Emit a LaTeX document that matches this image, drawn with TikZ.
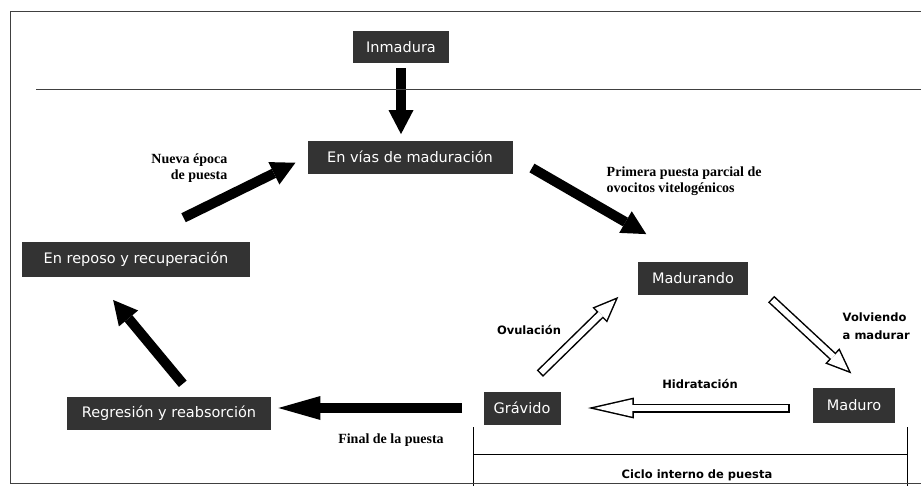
\documentclass[tikz,border=0pt]{standalone}
\usepackage{fontspec}
\setmainfont{Liberation Serif}
\newfontfamily\boxfont{DejaVu Sans}
\usetikzlibrary{arrows.meta}

\begin{document}
\begin{tikzpicture}[x=1pt, y=-1pt, line width=0.8pt,
  stage/.style={fill=black!80, text=white, font=\boxfont\fontsize{14.5}{17}\selectfont, minimum height=33pt, inner sep=0pt},
  note/.style={font=\bfseries\fontsize{14}{16}\selectfont, align=#1},
  note/.default=center,
  tag/.style={font=\boxfont\bfseries\fontsize{11.5}{18}\selectfont, align=left},
  bigarrow/.style 2 args={draw=black, line width=10pt, -{Triangle[length=24pt,width=25pt,line width=0pt]}, shorten <=#1, shorten >=#2},
  hollow/.style 2 args={draw=black, line width=9pt, -{Triangle[length=26pt,width=21pt,line width=0pt]}, shorten <=#1, shorten >=#2,
    postaction={draw=white, line width=6pt, -{Triangle[length=20.5pt,width=16.6pt,line width=0pt]}, shorten <=#1+1.5pt, shorten >=#2+4pt}}]
  \useasboundingbox (0,0) rectangle (921,485);
  \clip (0,0) rectangle (921,485);

  % stages of the ovary
  \node[stage, minimum width=96pt, minimum height=32pt] (inmad) at (401,47) {Inmadura};
  \node[stage, minimum width=205pt] (vias) at (410,157) {En vías de maduración};
  \node[stage, minimum width=228pt, minimum height=35pt] (reposo) at (136,259) {En reposo y recuperación};
  \node[stage, minimum width=204pt] (regres) at (169,413) {Regresión y reabsorción};
  \node[stage, minimum width=110pt] (madur) at (693,278) {Madurando};
  \node[stage, minimum width=77pt] (grav) at (522,408) {Grávido};
  \node[stage, minimum width=82pt, minimum height=35pt] (maduro) at (854,405) {Maduro};

  % labels on the arrows
  \node[note=right, anchor=east] (nueva) at (231,168) {Nueva época\\de puesta};
  \node[note=left, anchor=west] (primera) at (603,181) {Primera puesta parcial de\\ovocitos vitelogénicos};
  \node[note] (final) at (391,440) {Final de la puesta};
  \node[tag] (ovul) at (529,330) {Ovulación};
  \node[tag, anchor=west] (volv) at (839,326) {Volviendo\\a madurar};
  \node[tag] (hidr) at (700,384) {Hidratación};
  \node[tag, anchor=north] (ciclo) at (697,466) {Ciclo interno de puesta};

  % main cycle
  \draw[bigarrow={5pt}{6pt}] (inmad.south) -- (inmad.south |- vias.north);
  \draw[bigarrow={22pt}{54pt}] (vias.east) -- (madur.north);
  \draw[bigarrow={21pt}{7pt}, -{Triangle[length=42pt,width=24pt,line width=0pt]}] (grav.west) -- (grav.west -| regres.east);
  \draw[bigarrow={16pt}{30pt}] ([xshift=24pt]regres.north) -- ([xshift=-42pt]reposo.south);
  \draw[bigarrow={53pt}{13pt}] (reposo.north) -- (vias.west);

  % inner spawning cycle
  \draw[hollow={31pt}{20pt}] (madur.east) -- ([xshift=12pt]maduro.north);
  \draw[draw=black, line width=9pt, -{Triangle[length=46pt,width=21pt,line width=0pt]}, shorten <=23pt, shorten >=27pt,
    postaction={draw=white, line width=6pt, -{Triangle[length=37.8pt,width=17.3pt,line width=0pt]}, shorten <=24.5pt, shorten >=33.7pt}]
    (grav.east -| maduro.west) -- (grav.east);
  \draw[hollow={25pt}{27pt}] (grav.north) -- (madur.west);

  % frame, separator and bracket
  \draw[black!75] (36,89) -- (930,89);
  \draw (473,427) -- (473,495);
  \draw (907,427) -- (907,495);
  \draw (473,454) -- (907,454);
  \draw[black!75] (10,11) rectangle (930,483);
\end{tikzpicture}
\end{document}
